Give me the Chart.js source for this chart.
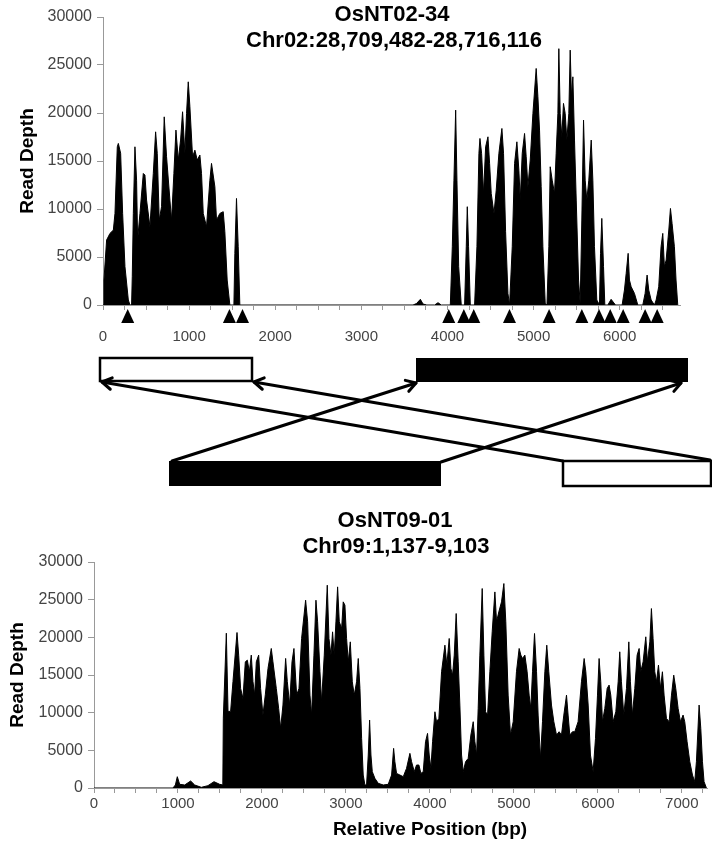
<!DOCTYPE html>
<html>
<head>
<meta charset="utf-8">
<title>Read depth – OsNT02-34 / OsNT09-01</title>
<script src="https://cdn.jsdelivr.net/npm/chart.js@4.4.1/dist/chart.umd.min.js"></script>
<style>
    html, body { margin: 0; padding: 0; background: #fff; }
    #figure { position: relative; width: 712px; height: 845px; overflow: hidden; }
    #figure canvas { position: absolute; left: 0; }
</style>
</head>
<body>
<div id="figure">
    <canvas id="topChart" width="712" height="345" style="top:0"></canvas>
    <canvas id="mapChart" width="712" height="155" style="top:345px"></canvas>
    <canvas id="bottomChart" width="712" height="345" style="top:500px"></canvas>
</div>
<script>
(function () {
    'use strict';

    // ---- data ----

    // depth axis
    var DEPTH_TICKS = [0, 5000, 10000, 15000, 20000, 25000, 30000];

    // OsNT02-34: [relative position (bp), read depth]
    var TOP_LABELS = [0, 1000, 2000, 3000, 4000, 5000, 6000];
    var TOP_PROFILE = [
        [0, 0], [11, 2600], [42, 6770], [81, 7460], [120, 7800], [139, 9540], [166, 16480], [178, 16830],
        [205, 15800], [228, 9540], [255, 4000], [294, 520], [313, 0], [332, 0], [340, 3000], [352, 9540],
        [371, 16480], [390, 13000], [402, 6770], [429, 9540], [468, 13700], [487, 13530], [506, 10930],
        [545, 8150], [584, 13700], [611, 18040], [630, 15800], [653, 8850], [680, 10240], [711, 19600],
        [738, 15440], [777, 10930], [796, 8850], [823, 13700], [847, 18220], [874, 15100], [901, 17180],
        [924, 20130], [951, 15800], [970, 19950], [990, 23250], [1009, 20650], [1040, 15440], [1067, 16130],
        [1094, 15100], [1125, 15620], [1144, 13700], [1164, 9540], [1202, 8150], [1241, 13000], [1260, 14750],
        [1299, 12320], [1318, 8850], [1357, 9540], [1396, 9720], [1415, 7630], [1442, 2600], [1473, 0],
        [1520, 0], [1531, 5380], [1550, 11100], [1570, 6070], [1589, 0],
        [3600, 0], [3640, 150], [3685, 590], [3716, 100], [3760, 0], [3851, 0], [3890, 240], [3928, 0],
        [4033, 0], [4056, 6070], [4075, 13000], [4095, 20300], [4110, 13000], [4130, 4000], [4160, 0],
        [4199, 0], [4218, 6070], [4230, 10240], [4245, 6070], [4265, 0], [4315, 0], [4342, 6070],
        [4365, 15800], [4377, 17350], [4396, 15800], [4419, 11620], [4443, 16480], [4470, 17520],
        [4489, 14750], [4508, 11620], [4540, 9540], [4566, 11970], [4597, 15800], [4632, 18390],
        [4651, 15800], [4675, 7630], [4702, 1210], [4721, 0], [4752, 6070], [4779, 14750], [4806, 17000],
        [4829, 14050], [4845, 10930], [4868, 15800], [4895, 17870], [4914, 15440], [4934, 12320],
        [4961, 15100], [4992, 19950], [5030, 24640], [5050, 21690], [5069, 18220], [5088, 12320],
        [5108, 6070], [5135, 170], [5155, 0], [5177, 6070], [5193, 14400], [5216, 13000], [5243, 11620],
        [5262, 15800], [5282, 19950], [5293, 26700], [5309, 19950], [5328, 17520], [5347, 21000],
        [5367, 19950], [5386, 17180], [5409, 19950], [5425, 26550], [5440, 21690], [5456, 23770],
        [5475, 17180], [5495, 10930], [5522, 2600], [5541, 170], [5560, 8850], [5580, 19260], [5599, 13000],
        [5618, 10930], [5641, 13000], [5669, 17180], [5688, 13000], [5707, 6070], [5734, 520], [5765, 0],
        [5777, 5380], [5792, 9020], [5812, 4000], [5827, 0], [5862, 0], [5900, 590], [5951, 0], [6028, 0],
        [6055, 1560], [6075, 3300], [6098, 5380], [6113, 2600], [6133, 1900], [6171, 1210], [6210, 0],
        [6268, 0], [6295, 1210], [6318, 3120], [6337, 1560], [6365, 520], [6403, 0], [6423, 520],
        [6453, 1900], [6480, 6070], [6500, 7460], [6519, 3990], [6539, 4680], [6570, 7810], [6589, 10060],
        [6608, 8500], [6635, 6070], [6654, 2600], [6674, 0]
    ];
    // breakpoint markers under the OsNT02-34 axis (bp)
    var TOP_MARKERS = [287, 1468, 1620, 4015, 4190, 4305, 4720, 5180, 5560, 5760, 5890, 6040, 6295, 6435];
    var MARKER_DEPTH = -1250;

    // OsNT09-01: [relative position (bp), read depth]
    var BOTTOM_LABELS = [0, 1000, 2000, 3000, 4000, 5000, 6000, 7000];
    var BOTTOM_PROFILE = [
        [0, 0], [940, 0], [969, 400], [992, 1500], [1020, 490], [1080, 400], [1151, 930], [1199, 400],
        [1278, 90], [1357, 310], [1429, 840], [1496, 490], [1534, 400], [1540, 9280], [1576, 20550],
        [1596, 10170], [1627, 10170], [1655, 14140], [1703, 20640], [1723, 17630], [1746, 13220],
        [1774, 11890], [1802, 16750], [1826, 16970], [1850, 15430], [1873, 17640], [1893, 14140],
        [1913, 12370], [1933, 16750], [1961, 17640], [1984, 13220], [2012, 9680], [2040, 12370],
        [2072, 15870], [2111, 18520], [2131, 16750], [2171, 13220], [2199, 10560], [2223, 7910],
        [2250, 11010], [2282, 17200], [2302, 14140], [2330, 11010], [2358, 16750], [2381, 18520],
        [2413, 12330], [2441, 13220], [2472, 19850], [2520, 24930], [2544, 22060], [2572, 12330],
        [2591, 9680], [2619, 17640], [2643, 24930], [2663, 22060], [2691, 15430], [2710, 11450],
        [2742, 17640], [2778, 26920], [2798, 19850], [2822, 17640], [2841, 20730], [2861, 17640],
        [2881, 22060], [2901, 26700], [2921, 22060], [2949, 21170], [2968, 24710], [2988, 24270],
        [3008, 19850], [3028, 16750], [3052, 19400], [3076, 14100], [3099, 12330], [3127, 14100],
        [3147, 17190], [3167, 13220], [3187, 6590], [3206, 1720], [3226, 400], [3246, 400], [3266, 4380],
        [3282, 9020], [3298, 4380], [3314, 2170], [3345, 1280], [3385, 620], [3445, 400], [3504, 490],
        [3544, 1720], [3568, 5260], [3583, 3490], [3603, 1940], [3643, 1720], [3683, 1500], [3722, 2610],
        [3762, 4600], [3782, 3490], [3814, 2170], [3841, 3050], [3869, 3050], [3893, 1940], [3921, 2170],
        [3948, 6140], [3972, 7250], [3992, 4380], [4012, 2610], [4032, 6140], [4060, 10120], [4079, 8800],
        [4107, 9240], [4139, 15430], [4179, 18960], [4202, 16310], [4230, 19850], [4250, 15870],
        [4270, 14980], [4290, 17640], [4313, 23160], [4337, 16750], [4357, 11010], [4377, 4380],
        [4397, 2170], [4425, 3490], [4456, 3930], [4488, 7030], [4516, 8800], [4536, 6140], [4556, 4380],
        [4575, 10560], [4595, 17640], [4623, 26480], [4643, 17640], [4663, 10120], [4687, 9680],
        [4714, 15430], [4742, 20730], [4774, 26030], [4794, 22060], [4821, 23380], [4853, 24710],
        [4881, 27140], [4904, 22060], [4932, 12330], [4960, 7030], [4992, 8800], [5031, 15430],
        [5063, 18520], [5083, 17640], [5103, 17190], [5131, 17640], [5158, 15430], [5182, 12330],
        [5202, 10560], [5222, 15430], [5246, 20510], [5270, 15430], [5289, 9680], [5317, 3930],
        [5341, 8800], [5369, 15430], [5392, 18960], [5416, 15430], [5448, 11010], [5476, 8800],
        [5508, 7030], [5539, 7470], [5567, 7030], [5595, 9680], [5627, 12330], [5646, 9680], [5666, 7030],
        [5698, 7470], [5726, 7470], [5765, 8800], [5805, 14100], [5837, 17190], [5857, 15430],
        [5885, 11010], [5912, 4380], [5944, 2170], [5972, 6590], [5996, 12330], [6015, 17190],
        [6035, 14100], [6055, 8800], [6083, 10560], [6111, 13220], [6134, 13660], [6154, 12330],
        [6182, 8800], [6214, 10120], [6242, 14100], [6261, 18080], [6281, 14100], [6309, 9680],
        [6341, 13220], [6369, 19400], [6388, 14100], [6412, 9680], [6440, 13220], [6468, 17640],
        [6492, 18520], [6511, 15430], [6539, 16750], [6571, 20070], [6591, 16750], [6619, 19400],
        [6638, 23820], [6658, 19850], [6678, 15430], [6698, 14100], [6722, 16310], [6746, 13220],
        [6769, 15430], [6789, 12330], [6817, 9240], [6849, 8800], [6877, 12330], [6904, 14980],
        [6928, 13220], [6956, 10560], [6984, 8800], [7015, 9680], [7035, 8800], [7063, 6140], [7095, 3490],
        [7127, 1720], [7154, 840], [7174, 3490], [7206, 11010], [7226, 7910], [7246, 3490], [7265, 840],
        [7293, 0]
    ];

    // inversion map between the two panels (diagram units)
    var MAP_BLOCKS = [
        [100, 13, 252, 36, false],
        [416, 13, 688, 37, true],
        [169, 116, 441, 141, true],
        [563, 116, 711, 141, false]
    ];
    var MAP_LINKS = [
        [172, 116, 416, 38],
        [441, 117, 681, 38],
        [563, 116, 102, 37],
        [710, 115, 254, 37]
    ];

    // ---- helpers ----

    var FONT = "'Liberation Sans', Arial, Helvetica, sans-serif";
    var MINOR_STEP = 250;

    function toPoints(rows) {
        return rows.map(function (r) { return { x: r[0], y: r[1] }; });
    }

    function headingPlugin(items) {
        return {
            id: 'headings',
            afterDraw: function (chart) {
                var ctx = chart.ctx;
                items.forEach(function (t) {
                    ctx.save();
                    ctx.font = t.font;
                    ctx.fillStyle = '#000';
                    ctx.textAlign = 'center';
                    ctx.textBaseline = 'middle';
                    ctx.fillText(t.text, t.x, t.y);
                    ctx.restore();
                });
            }
        };
    }

    // black triangles under the axis, placed with the chart's own scales
    function markerPlugin(positions, depth) {
        return {
            id: 'markers',
            afterDatasetsDraw: function (chart) {
                var sx = chart.scales.x, sy = chart.scales.y, ctx = chart.ctx;
                var cy = sy.getPixelForValue(depth);
                ctx.save();
                ctx.fillStyle = '#000';
                positions.forEach(function (v) {
                    var cx = sx.getPixelForValue(v);
                    ctx.beginPath();
                    ctx.moveTo(cx, cy - 8);
                    ctx.lineTo(cx + 6.5, cy + 6);
                    ctx.lineTo(cx - 6.5, cy + 6);
                    ctx.closePath();
                    ctx.fill();
                });
                ctx.restore();
            }
        };
    }

    function depthChart(id, profile, labels, xMax, layout) {
        var plugins = [headingPlugin(layout.headings)];
        if (layout.markers) plugins.push(markerPlugin(layout.markers, MARKER_DEPTH));

        return new Chart(document.getElementById(id), {
            type: 'line',
            data: {
                datasets: [{
                    data: toPoints(profile),
                    borderColor: '#000',
                    backgroundColor: '#000',
                    borderWidth: 1,
                    fill: 'origin',
                    pointRadius: 0,
                    tension: 0
                }]
            },
            options: {
                responsive: false,
                animation: false,
                devicePixelRatio: 1,
                layout: { padding: { top: layout.top, right: layout.right, left: 0, bottom: 0 } },
                plugins: { legend: { display: false }, tooltip: { enabled: false } },
                scales: {
                    x: {
                        type: 'linear',
                        min: 0,
                        max: xMax,
                        afterFit: function (s) { s.height = layout.xHeight; },
                        // minor ticks every 250 bp, labels on the thousands
                        afterBuildTicks: function (s) {
                            var t = [];
                            for (var v = 0; v <= xMax; v += MINOR_STEP) t.push({ value: v });
                            s.ticks = t;
                        },
                        ticks: {
                            autoSkip: false,
                            maxRotation: 0,
                            minRotation: 0,
                            padding: layout.xPad,
                            color: '#444',
                            font: { family: FONT, size: 15 },
                            callback: function (v) {
                                return labels.indexOf(v) !== -1 ? String(v) : '';
                            }
                        },
                        grid: { drawOnChartArea: false, tickLength: 5, color: '#999' },
                        border: { color: '#999' }
                    },
                    y: {
                        min: 0,
                        max: 30000,
                        afterFit: function (s) { s.width = layout.yWidth; },
                        ticks: {
                            stepSize: 5000,
                            padding: 5,
                            color: '#444',
                            font: { family: FONT, size: 16 },
                            callback: function (v) {
                                return DEPTH_TICKS.indexOf(v) !== -1 ? String(v) : '';
                            }
                        },
                        grid: { drawOnChartArea: false, tickLength: 6, color: '#999' },
                        border: { color: '#999' },
                        title: {
                            display: true,
                            text: 'Read Depth',
                            color: '#000',
                            font: { family: FONT, size: 19, weight: 'bold' },
                            padding: { top: layout.titlePad, bottom: 0 }
                        }
                    }
                }
            },
            plugins: plugins
        });
    }

    // ---- OsNT02-34 ----
    depthChart('topChart', TOP_PROFILE, TOP_LABELS, 6700, {
        top: 17, right: 32, xHeight: 40, yWidth: 103, xPad: 18, titlePad: 16,
        markers: TOP_MARKERS,
        headings: [
            { text: 'OsNT02-34', x: 392, y: 15, font: 'bold 22px ' + FONT },
            { text: 'Chr02:28,709,482-28,716,116', x: 394, y: 41, font: 'bold 22px ' + FONT }
        ]
    });

    // ---- inversion map ----
    var mapPlugin = {
        id: 'inversionMap',
        afterDraw: function (chart) {
            var sx = chart.scales.x, sy = chart.scales.y, ctx = chart.ctx;
            ctx.save();
            MAP_BLOCKS.forEach(function (b) {
                var x0 = sx.getPixelForValue(b[0]), y0 = sy.getPixelForValue(b[1]);
                var x1 = sx.getPixelForValue(b[2]), y1 = sy.getPixelForValue(b[3]);
                if (b[4]) {
                    ctx.fillStyle = '#000';
                    ctx.fillRect(x0, y0, x1 - x0, y1 - y0);
                } else {
                    ctx.fillStyle = '#fff';
                    ctx.fillRect(x0, y0, x1 - x0, y1 - y0);
                    ctx.lineWidth = 2.5;
                    ctx.strokeStyle = '#000';
                    ctx.strokeRect(x0, y0, x1 - x0, y1 - y0);
                }
            });
            ctx.strokeStyle = '#000';
            ctx.lineWidth = 3;
            ctx.lineCap = 'round';
            ctx.lineJoin = 'round';
            MAP_LINKS.forEach(function (l) {
                var ax = sx.getPixelForValue(l[0]), ay = sy.getPixelForValue(l[1]);
                var bx = sx.getPixelForValue(l[2]), by = sy.getPixelForValue(l[3]);
                var ang = Math.atan2(by - ay, bx - ax);
                ctx.beginPath();
                ctx.moveTo(ax, ay);
                ctx.lineTo(bx, by);
                ctx.stroke();
                ctx.beginPath();
                ctx.moveTo(bx - 11 * Math.cos(ang - 0.55), by - 11 * Math.sin(ang - 0.55));
                ctx.lineTo(bx, by);
                ctx.lineTo(bx - 11 * Math.cos(ang + 0.55), by - 11 * Math.sin(ang + 0.55));
                ctx.stroke();
            });
            ctx.restore();
        }
    };

    new Chart(document.getElementById('mapChart'), {
        type: 'scatter',
        data: { datasets: [] },
        options: {
            responsive: false,
            animation: false,
            devicePixelRatio: 1,
            layout: { padding: 0 },
            plugins: { legend: { display: false }, tooltip: { enabled: false } },
            scales: {
                x: { type: 'linear', min: 0, max: 712, display: false },
                y: { type: 'linear', min: 0, max: 155, reverse: true, display: false }
            }
        },
        plugins: [mapPlugin]
    });

    // ---- OsNT09-01 ----
    depthChart('bottomChart', BOTTOM_PROFILE, BOTTOM_LABELS, 7300, {
        top: 62, right: 5, xHeight: 57, yWidth: 94, xPad: 2, titlePad: 6,
        headings: [
            { text: 'OsNT09-01', x: 395, y: 21, font: 'bold 22px ' + FONT },
            { text: 'Chr09:1,137-9,103', x: 396, y: 47, font: 'bold 22px ' + FONT },
            { text: 'Relative Position (bp)', x: 430, y: 330, font: 'bold 19px ' + FONT }
        ]
    });
})();
</script>
</body>
</html>
